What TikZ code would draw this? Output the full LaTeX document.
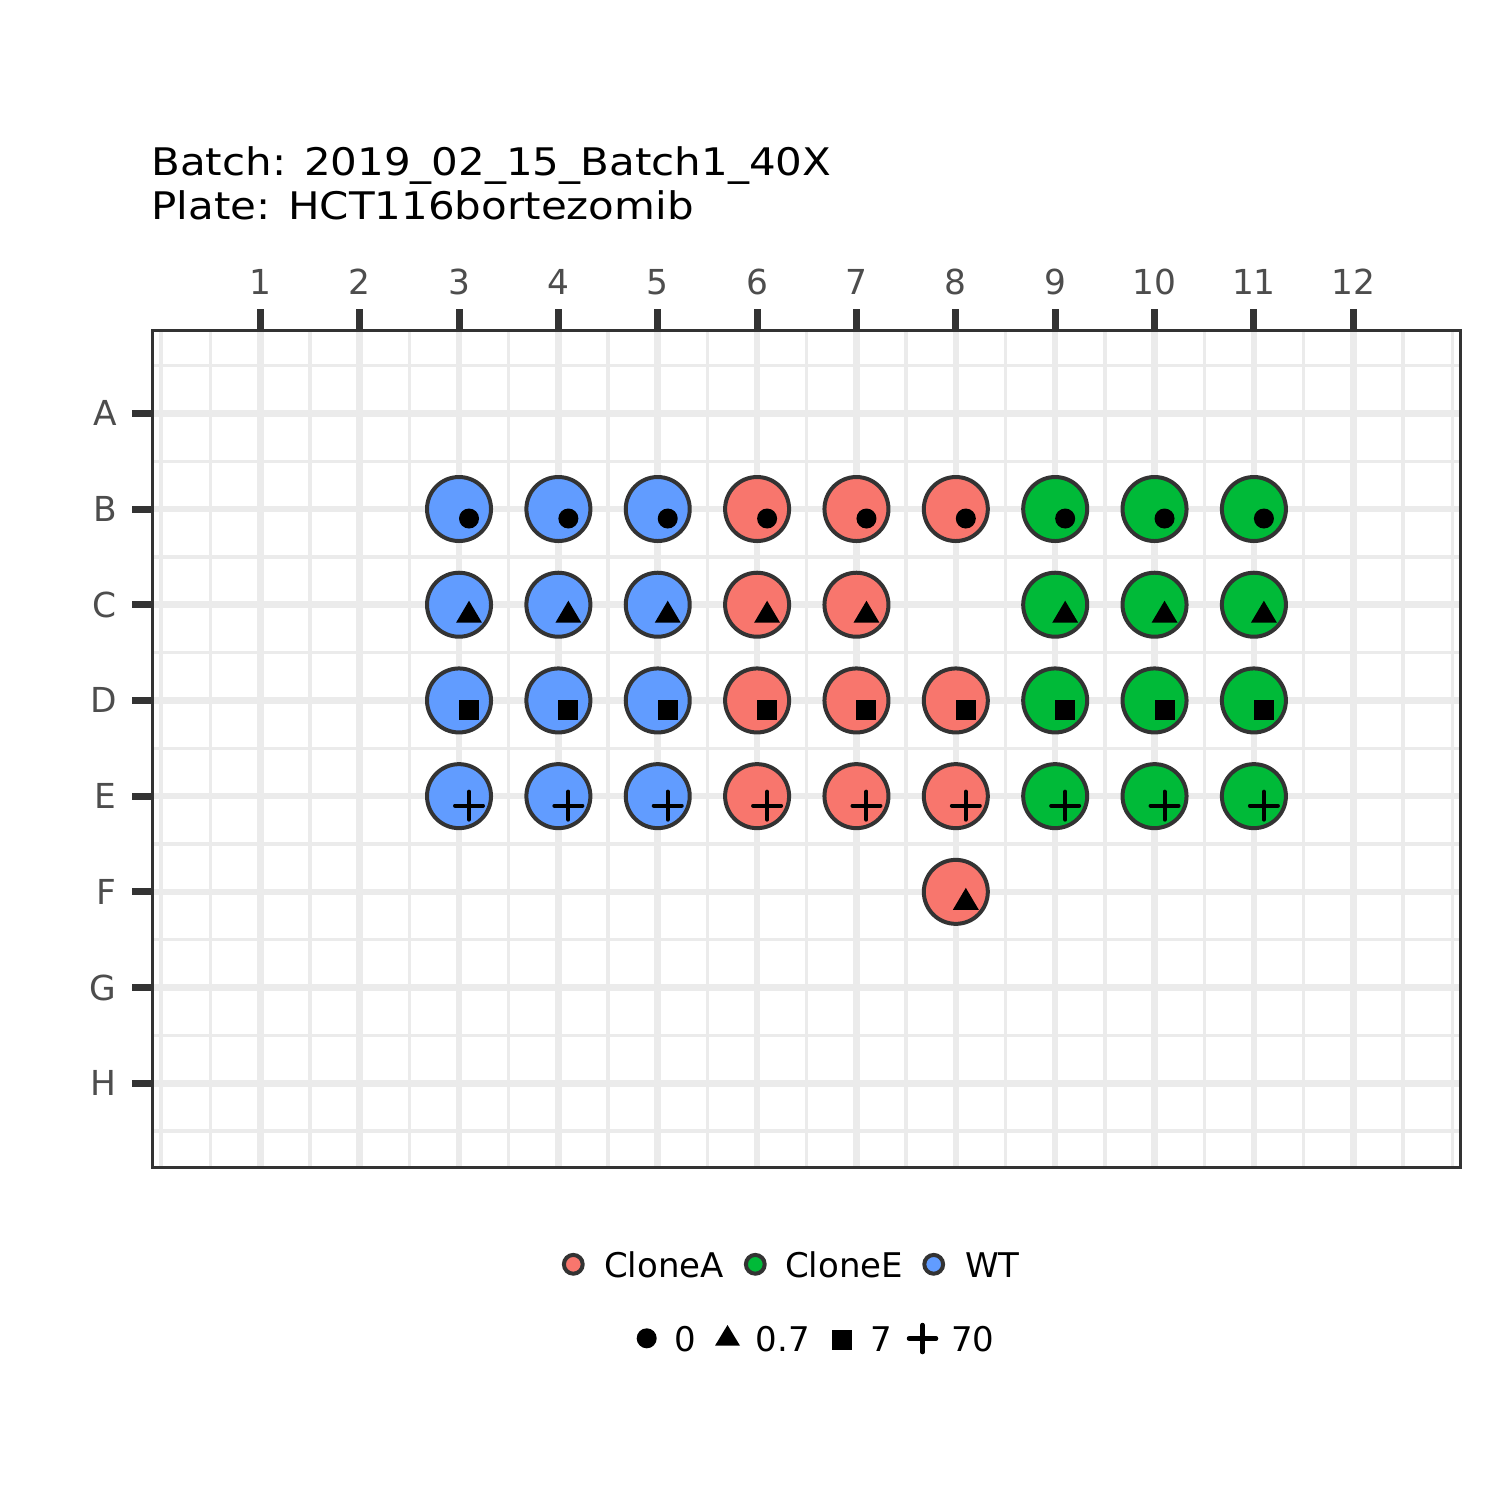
\documentclass[tikz,border=0pt]{standalone}
\usepackage{fontspec}
\setmainfont{DejaVu Sans}
\newfontfamily\titlefont[FakeStretch=1.105]{DejaVu Sans}
\definecolor{cloneA}{HTML}{F8766D}
\definecolor{cloneE}{HTML}{00BA38}
\definecolor{wt}{HTML}{619CFF}
\definecolor{dk}{HTML}{333333}
\definecolor{gridc}{HTML}{EBEBEB}
\definecolor{axtxt}{HTML}{4D4D4D}
\tikzset{
  well/.style={circle,draw=dk,line width=2pt,minimum size=32pt,inner sep=0pt},
  keycirc/.style={circle,draw=dk,line width=2pt,minimum size=9.4pt,inner sep=0pt},
  minorgrid/.style={gridc,line width=1.65pt},
  majorgrid/.style={gridc,line width=3.25pt},
  tickmark/.style={dk,line width=3.5pt},
  ticklab/.style={text=axtxt,font=\fontsize{17.2pt}{20pt}\selectfont,inner sep=0pt},
  legtxt/.style={anchor=base west,font=\fontsize{17pt}{20pt}\selectfont,inner sep=0pt},
  titletxt/.style={anchor=base west,font=\titlefont\fontsize{19pt}{22pt}\selectfont,inner sep=0pt},
  plusmark/.style={line width=2pt,line cap=round}
}
\newcommand\mkdot[1]{\fill (#1) ++(10,9.5) circle[radius=5pt];}
\newcommand\mktri[1]{\fill (#1) ++(-3,18) -- ++(26,0) -- ++(-13,-22) -- cycle;}
\newcommand\mksq[1]{\fill (#1) rectangle ++(20,20);}
\newcommand\mkplus[1]{\draw[plusmark] (#1) ++(-4,9.5) -- ++(28,0); \draw[plusmark] (#1) ++(10,-4.5) -- ++(0,28);}
\newcommand\well[5]{\node[well,fill=#4] (w#1#3) at ({160.94+#3*99.36},{317.59+#2*95.71}) {}; #5{w#1#3.center}}
\begin{document}
\begin{tikzpicture}[x=0.5pt,y=-0.5pt]
\useasboundingbox (0,0) rectangle (1500,1500);
\fill[white] (0,0) rectangle (1500,1500);
% grid
\begin{scope}
\clip (152.5,330) rectangle (1460,1167.5);
\foreach \c in {0,0.5,...,13.01} \draw[minorgrid] ({160.94+\c*99.36},330) -- ({160.94+\c*99.36},1167.5);
\foreach \r in {0.5,1.5,...,8.51} \draw[minorgrid] (152.5,{317.59+\r*95.71}) -- (1460,{317.59+\r*95.71});
\foreach \c in {1,...,12} \draw[majorgrid] ({160.94+\c*99.36},330) -- ({160.94+\c*99.36},1167.5);
\foreach \r in {1,...,8} \draw[majorgrid] (152.5,{317.59+\r*95.71}) -- (1460,{317.59+\r*95.71});
\end{scope}
\draw[dk,line width=1.5pt] (152.5,330) rectangle (1460,1167.5);
% ticks and labels
\foreach \c in {1,...,12} {
  \draw[tickmark] ({160.94+\c*99.36},309) -- ({160.94+\c*99.36},330);
  \node[ticklab,anchor=base] (tx\c) at ({160.94+\c*99.36},294.3) {\c};
}
\foreach \r/\l in {1/A,2/B,3/C,4/D,5/E,6/F,7/G,8/H} {
  \draw[tickmark] (132,{317.59+\r*95.71}) -- (152.5,{317.59+\r*95.71});
  \node[ticklab,anchor=base east] (ty\l) at (117,{317.59+\r*95.71+12.5}) {\l};
}
% wells
\foreach \c/\col in {3/wt,4/wt,5/wt,6/cloneA,7/cloneA,8/cloneA,9/cloneE,10/cloneE,11/cloneE} {
  \well{B}{2}{\c}{\col}{\mkdot}
  \well{D}{4}{\c}{\col}{\mksq}
  \well{E}{5}{\c}{\col}{\mkplus}
}
\foreach \c/\col in {3/wt,4/wt,5/wt,6/cloneA,7/cloneA,9/cloneE,10/cloneE,11/cloneE} {
  \well{C}{3}{\c}{\col}{\mktri}
}
\well{F}{6}{8}{cloneA}{\mktri}
% title
\node[titletxt] (title1) at (151,175) {Batch: 2019\_02\_15\_Batch1\_40X};
\node[titletxt] (title2) at (151,219.3) {Plate: HCT116bortezomib};
% legend row 1
\node[keycirc,fill=cloneA] (kA) at (573.3,1264.3) {};
\node[legtxt] (lA) at (603.8,1277.3) {CloneA};
\node[keycirc,fill=cloneE] (kE) at (755.3,1264.3) {};
\node[legtxt] (lE) at (784.8,1277.3) {CloneE};
\node[keycirc,fill=wt] (kW) at (933.7,1264.3) {};
\node[legtxt] (lW) at (964.6,1277.3) {WT};
% legend row 2
\fill (646.7,1338.3) circle[radius=5pt];
\node[legtxt] (l0) at (674.5,1351.7) {0};
\fill (715,1345.7) -- (740,1345.7) -- (727.5,1325) -- cycle;
\node[legtxt] (l07) at (755.5,1351.7) {0.7};
\fill (832,1330) rectangle (851.7,1349.7);
\node[legtxt] (l7) at (870.3,1351.7) {7};
\draw[line width=2.25pt,line cap=round] (909,1338.5) -- (936,1338.5);
\draw[line width=2.25pt,line cap=round] (922.5,1325) -- (922.5,1352);
\node[legtxt] (l70) at (950.6,1351.7) {70};
\end{tikzpicture}
\end{document}
